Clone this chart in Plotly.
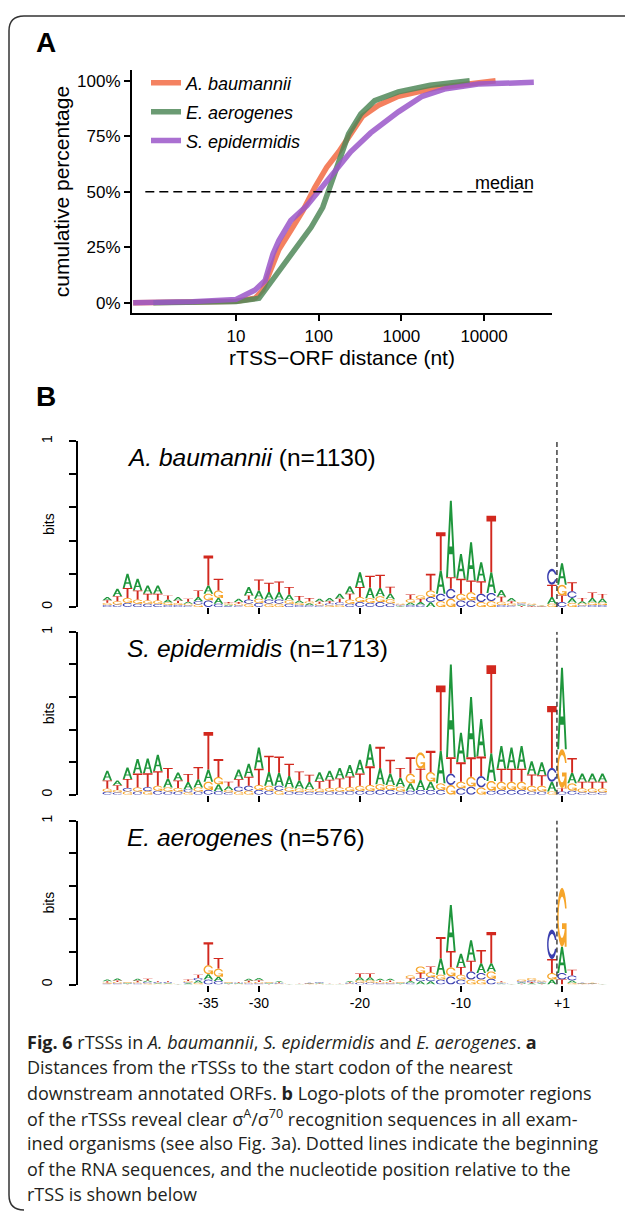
import numpy as np
import plotly.graph_objects as go

W, H = 625, 1213


def px(x):
    return x / W


def py(y):
    return 1 - y / H


# ---------------- Panel A data ----------------
SPECIES_A = ["A. baumannii", "E. aerogenes", "S. epidermidis"]
AB_DIST = [0.57, 1, 3, 10, 17, 21, 26.5, 33, 46, 64.5, 90, 125, 175, 244, 340, 530, 920, 1600, 2800, 4900, 8500, 13800]
AB_CUM = [0, 0, 0.3, 0.7, 2, 5.7, 16, 24, 32.5, 41.5, 52, 61, 68, 76.5, 84, 89, 93, 95, 97, 98, 99, 100]
EA_DIST = [1, 3, 10, 19, 24, 33, 51.5, 81, 112, 141, 175, 230, 323, 475, 920, 2230, 6700]
EA_CUM = [0, 0.2, 0.5, 2, 7, 14.6, 23.6, 34, 43, 53.4, 64, 76, 85, 91, 95, 98, 100]
SE_DIST = [0.57, 3, 10, 17, 22.5, 28, 33, 46, 72, 100, 156, 244, 425, 920, 1790, 3450, 8500, 40000]
SE_CUM = [0, 0.5, 1.5, 5.7, 10, 22, 28, 37, 43.7, 50.4, 59, 68, 76.5, 86, 93, 96.4, 98.5, 99.3]
COLORS_A = ["#F26C45", "#51895A", "#9B57C9"]
MEDIAN_X = [0.8, 40000]
MEDIAN_Y = [50, 50]
A_XTICKS = [10, 100, 1000, 10000]
A_YTICKS = [0, 25, 50, 75, 100]
A_YTICKTEXT = ["0%", "25%", "50%", "75%", "100%"]

# ---------------- Panel B data (bits per nucleotide) ----------------
POSITIONS = list(range(-45, 0)) + list(range(1, 6))
TICK_POS = [-35, -30, -20, -10, 1]
TICK_TEXT = ["-35", "-30", "-20", "-10", "+1"]

AB_A = [.020, .045, .085, .070, .050, .050, .018, .022, .012, .025, .050, .035, .008, .020, .050, .050, .045, .046, .036, .015,
        .012, .018, .020, .030, .045, .090, .065, .050, .035, .004, .015, .016, .028, .140, .460, .150, .230, .115, .125, .040,
        .020, .008, .005, .003, .040, .130, .030, .015, .028, .025]
AB_C = [.012, .015, .025, .020, .020, .018, .012, .012, .010, .020, .040, .020, .006, .010, .025, .025, .025, .025, .020, .012,
        .010, .010, .012, .015, .020, .030, .025, .030, .022, .006, .012, .014, .032, .045, .060, .040, .040, .050, .050, .012,
        .010, .008, .005, .002, .096, .030, .040, .010, .012, .012]
AB_G = [.013, .020, .030, .025, .020, .022, .015, .012, .010, .015, .040, .045, .008, .010, .020, .025, .020, .020, .020, .012,
        .012, .010, .010, .013, .025, .030, .028, .035, .025, .006, .020, .022, .040, .035, .050, .040, .050, .030, .035, .020,
        .012, .008, .006, .003, .020, .064, .025, .010, .015, .014]
AB_T = [.015, .030, .060, .055, .040, .040, .025, .014, .018, .040, .180, .070, .008, .010, .025, .066, .056, .063, .044, .027,
        .020, .012, .013, .022, .035, .060, .070, .080, .040, .004, .028, .018, .100, .230, .070, .090, .070, .075, .340, .030,
        .013, .006, .004, .002, .074, .040, .054, .020, .032, .028]

SE_A = [.060, .030, .070, .090, .090, .100, .055, .050, .045, .050, .075, .042, .022, .060, .080, .130, .085, .080, .070, .050,
        .042, .055, .055, .065, .070, .085, .135, .100, .070, .055, .045, .060, .050, .200, .570, .180, .370, .230, .170, .140,
        .130, .140, .080, .080, .060, .500, .065, .050, .050, .050]
SE_C = [.018, .015, .022, .020, .025, .025, .020, .020, .018, .020, .030, .022, .015, .030, .030, .030, .025, .030, .020, .018,
        .018, .018, .020, .020, .022, .025, .025, .030, .030, .020, .025, .030, .030, .030, .070, .040, .050, .070, .025, .030,
        .030, .030, .020, .020, .085, .020, .025, .015, .015, .015]
SE_G = [.020, .015, .020, .025, .022, .030, .025, .022, .015, .025, .050, .045, .015, .020, .025, .030, .030, .025, .025, .020,
        .018, .020, .022, .025, .025, .030, .035, .035, .030, .030, .060, .100, .060, .040, .060, .040, .060, .045, .060, .050,
        .050, .050, .035, .035, .020, .240, .045, .025, .025, .025]
SE_T = [.050, .028, .055, .085, .085, .090, .065, .045, .050, .075, .230, .110, .028, .045, .055, .100, .100, .100, .075, .055,
        .045, .045, .050, .055, .065, .075, .115, .130, .085, .060, .100, .070, .130, .400, .100, .120, .120, .120, .540, .080,
        .080, .080, .070, .065, .380, .020, .090, .040, .040, .040]

EA_A = [.010, .012, .004, .012, .010, .005, .005, .001, .007, .015, .033, .025, .004, .004, .012, .014, .004, .006, .001, .001,
        .003, .004, .001, .001, .006, .020, .020, .010, .010, .004, .012, .020, .020, .100, .280, .080, .125, .060, .050, .005,
        .001, .007, .007, .006, .030, .160, .015, .003, .003, .001]
EA_C = [.006, .008, .004, .007, .008, .005, .005, .001, .007, .015, .030, .022, .004, .004, .007, .008, .004, .005, .001, .001,
        .003, .005, .001, .001, .005, .012, .012, .008, .008, .004, .010, .020, .025, .030, .050, .030, .050, .040, .035, .005,
        .002, .008, .010, .006, .180, .040, .030, .003, .002, .001]
EA_G = [.006, .008, .004, .007, .007, .004, .004, .002, .007, .010, .055, .050, .004, .003, .007, .008, .004, .004, .002, .001,
        .002, .003, .001, .001, .004, .013, .013, .008, .008, .004, .018, .040, .030, .030, .055, .030, .030, .030, .045, .005,
        .001, .010, .015, .008, .040, .360, .010, .002, .003, .002]
EA_T = [.008, .008, .003, .009, .010, .006, .006, .001, .009, .020, .140, .065, .003, .004, .009, .010, .003, .005, .001, .001,
        .002, .003, .001, .001, .005, .022, .022, .009, .009, .003, .015, .030, .035, .130, .100, .047, .065, .080, .190, .005,
        .001, .005, .008, .005, .085, .030, .035, .002, .002, .001]

LOGOS = [
    ("A. baumannii", 1130, {"A": AB_A, "C": AB_C, "G": AB_G, "T": AB_T}),
    ("S. epidermidis", 1713, {"A": SE_A, "C": SE_C, "G": SE_G, "T": SE_T}),
    ("E. aerogenes", 576, {"A": EA_A, "C": EA_C, "G": EA_G, "T": EA_T}),
]
LETTER_COLORS = {"A": "#1E963C", "C": "#3A3FAF", "G": "#F6A52A", "T": "#D2281E"}

CAPTION_LINES = [
    "<b>Fig. 6</b> rTSSs in <i>A. baumannii</i>, <i>S. epidermidis</i> and <i>E. aerogenes</i>. <b>a</b>",
    "Distances from the rTSSs to the start codon of the nearest",
    "downstream annotated ORFs. <b>b</b> Logo-plots of the promoter regions",
    "of the rTSSs reveal clear σ<sup>A</sup>/σ<sup>70</sup> recognition sequences in all exam-",
    "ined organisms (see also Fig. 3a). Dotted lines indicate the beginning",
    "of the RNA sequences, and the nucleotide position relative to the",
    "rTSS is shown below",
]


# ---------------- letter glyphs (unit box outlines) ----------------
def orient(pts, ccw=True):
    pts = np.asarray(pts, float)
    x, y = pts[:, 0], pts[:, 1]
    area = 0.5 * np.sum(x * np.roll(y, -1) - np.roll(x, -1) * y)
    if (area > 0) != ccw:
        pts = pts[::-1]
    return pts


def ring(n=28):
    a_out = np.linspace(0.3, 2 * np.pi - 0.3, n)
    a_in = np.linspace(2 * np.pi - 0.4355, 0.4355, n)
    outer = np.c_[0.5 + 0.5 * np.cos(a_out), 0.5 + 0.5 * np.sin(a_out)]
    inner = np.c_[0.5 + 0.35 * np.cos(a_in), 0.5 + 0.35 * np.sin(a_in)]
    return np.vstack([outer, inner])


GLYPHS = {
    "A": [orient([(0, 0), (0.4, 1), (0.6, 1), (1, 0), (0.8, 0), (0.68, 0.3), (0.32, 0.3), (0.2, 0)]),
          orient([(0.36, 0.4), (0.5, 0.75), (0.64, 0.4)], ccw=False)],
    "C": [orient(ring())],
    "G": [orient(ring()),
          orient([(0.978, 0.4), (0.5, 0.4), (0.5, 0.3), (0.778, 0.3), (0.778, 0), (0.978, 0)])],
    "T": [orient([(0, 1), (1, 1), (1, 0.9), (0.6, 0.9), (0.6, 0), (0.4, 0), (0.4, 0.9), (0, 0.9)])],
}

OFFSET = POSITIONS.index(1)
LETTER_W = 0.95

fig = go.Figure()

# ---------------- Panel A ----------------
curves = [(AB_DIST, AB_CUM), (EA_DIST, EA_CUM), (SE_DIST, SE_CUM)]
for name, (xs, ys), col in zip(SPECIES_A, curves, COLORS_A):
    fig.add_trace(go.Scatter(x=xs, y=ys, mode="lines", name="<i>%s</i>" % name, legendgroup=name,
                             line=dict(color=col, width=5.5), opacity=0.85,
                             xaxis="x", yaxis="y", hoverinfo="skip"))
fig.add_trace(go.Scatter(x=MEDIAN_X, y=MEDIAN_Y, mode="lines", showlegend=False,
                         line=dict(color="black", width=1.6, dash="9px,5px"),
                         xaxis="x", yaxis="y", hoverinfo="skip"))

# ---------------- Panel B logos ----------------
for li, (sp, n, heights) in enumerate(LOGOS):
    xa, ya = "x%d" % (li + 2), "y%d" % (li + 2)
    segs = {L: ([], []) for L in "ACGT"}
    for i in range(len(POSITIONS)):
        k = i - OFFSET
        order = sorted("ACGT", key=lambda L: heights[L][i])
        y0 = 0.0
        for L in order:
            h = heights[L][i]
            for comp in GLYPHS[L]:
                gx = k - LETTER_W / 2 + LETTER_W * comp[:, 0]
                gy = y0 + h * comp[:, 1]
                segs[L][0].extend(gx.tolist() + [None])
                segs[L][1].extend(gy.tolist() + [None])
            y0 += h
    for L in "ACGT":
        fig.add_trace(go.Scatter(x=segs[L][0], y=segs[L][1], mode="lines", fill="toself",
                                 fillcolor=LETTER_COLORS[L], line=dict(width=0, color=LETTER_COLORS[L], simplify=False),
                                 showlegend=False, hoverinfo="skip", xaxis=xa, yaxis=ya))
    fig.add_trace(go.Scatter(x=[-0.5, -0.5], y=[0, 1], mode="lines", showlegend=False,
                             line=dict(color="#111111", width=1.2, dash="5px,3px"),
                             hoverinfo="skip", xaxis=xa, yaxis=ya))

FONT = "Liberation Sans, Arial, Helvetica, sans-serif"
CAP_FONT = "Open Sans, Noto Sans, sans-serif"
DY = -4  # vertical shift of panel A

layout = dict(
    width=W, height=H, margin=dict(l=0, r=0, t=0, b=0),
    paper_bgcolor="white", plot_bgcolor="white", hovermode=False,
    font=dict(family=FONT, color="black"),
    legend=dict(x=px(146), y=py(63 + DY), xanchor="left", yanchor="top", bgcolor="rgba(0,0,0,0)",
                font=dict(size=18, family=FONT), itemwidth=30, tracegroupgap=2.5),
    xaxis=dict(type="log", range=[-0.258, 4.822], domain=[px(132), px(552)], anchor="y",
               showline=True, linewidth=2, linecolor="black", ticks="outside", ticklen=6, tickwidth=2,
               tickcolor="black", tickvals=A_XTICKS, ticktext=[str(v) for v in A_XTICKS],
               tickfont=dict(size=17), showgrid=False, zeroline=False,
               title=dict(text="rTSS−ORF distance (nt)", font=dict(size=21), standoff=5)),
    yaxis=dict(range=[-4.74, 104.9], domain=[py(313.3 + DY), py(68.3 + DY)], anchor="x",
               showline=True, linewidth=2, linecolor="black", ticks="outside", ticklen=6, tickwidth=2,
               tickcolor="black", tickvals=A_YTICKS, ticktext=A_YTICKTEXT, tickfont=dict(size=17),
               showgrid=False, zeroline=False,
               title=dict(text="cumulative percentage", font=dict(size=21), standoff=2)),
)

LOGO_Y = [(438, 605), (630, 794), (820, 985)]
tick_idx = [POSITIONS.index(p) - OFFSET for p in TICK_POS]
annotations = []
for li, (sp, n, heights) in enumerate(LOGOS):
    top, bot = LOGO_Y[li]
    layout["xaxis%d" % (li + 2)] = dict(
        domain=[px(78), px(610)], range=[-47.9, 4.75], anchor="y%d" % (li + 2),
        tickvals=tick_idx, ticktext=TICK_TEXT, showticklabels=(li == 2),
        ticks="outside", ticklen=6, tickwidth=1.5, tickcolor="black",
        showline=False, showgrid=False, zeroline=False, tickfont=dict(size=14))
    layout["yaxis%d" % (li + 2)] = dict(
        domain=[py(bot), py(top)], range=[0, 1], anchor="x%d" % (li + 2),
        tickvals=[0, 1], ticktext=["0", "1"], tickangle=-90,
        ticks="outside", ticklen=7, tickwidth=1.5, tickcolor="black",
        minor=dict(tickvals=[0.2, 0.4, 0.6, 0.8], ticks="outside", ticklen=7, tickwidth=1.5, tickcolor="black"),
        showline=True, linewidth=1.5, linecolor="black", showgrid=False, zeroline=False,
        tickfont=dict(size=14), ticklabelstandoff=12)
    annotations.append(dict(xref="paper", yref="paper", x=px(125), y=py(top + 17), xanchor="left",
                            yanchor="middle", showarrow=False,
                            text="<i>%s</i> (n=%d)" % (sp, n), font=dict(size=24.5, family=FONT)))
    annotations.append(dict(xref="paper", yref="paper", x=px(49), y=py((top + bot) / 2), xanchor="center",
                            yanchor="middle", showarrow=False, textangle=-90,
                            text="bits", font=dict(size=14, family=FONT)))

annotations.append(dict(xref="paper", yref="paper", x=px(536), y=py(182 + DY), xanchor="right", yanchor="middle",
                        showarrow=False, text="median", font=dict(size=18, family=FONT)))
annotations.append(dict(xref="paper", yref="paper", x=px(34), y=py(37), xanchor="left", yanchor="middle",
                        showarrow=False, text="<b>A</b>", font=dict(size=28, family=FONT)))
annotations.append(dict(xref="paper", yref="paper", x=px(34), y=py(393), xanchor="left", yanchor="middle",
                        showarrow=False, text="<b>B</b>", font=dict(size=28, family=FONT)))

CAP_Y0, CAP_DY = 1043, 25.5
for j, line in enumerate(CAPTION_LINES):
    annotations.append(dict(xref="paper", yref="paper", x=px(25), y=py(CAP_Y0 + j * CAP_DY), xanchor="left",
                            yanchor="middle", showarrow=False, text=line,
                            font=dict(size=18, family=CAP_FONT, color="#231f20")))
layout["annotations"] = annotations

# rounded frame around the figure
r = 15
frame = ("M %f,%f L %f,%f Q %f,%f %f,%f L %f,%f Q %f,%f %f,%f" % (
    px(640), py(10), px(9 + r), py(10), px(9), py(10), px(9), py(10 + r),
    px(9), py(1212 - r), px(9), py(1212), px(9 + r), py(1212)))
layout["shapes"] = [dict(type="path", xref="paper", yref="paper", path=frame,
                         line=dict(color="#333333", width=1.5))]

fig.update_layout(**layout)
fig.write_html("out.html", config={"displayModeBar": False},
               post_script="document.body.style.margin='0';")
